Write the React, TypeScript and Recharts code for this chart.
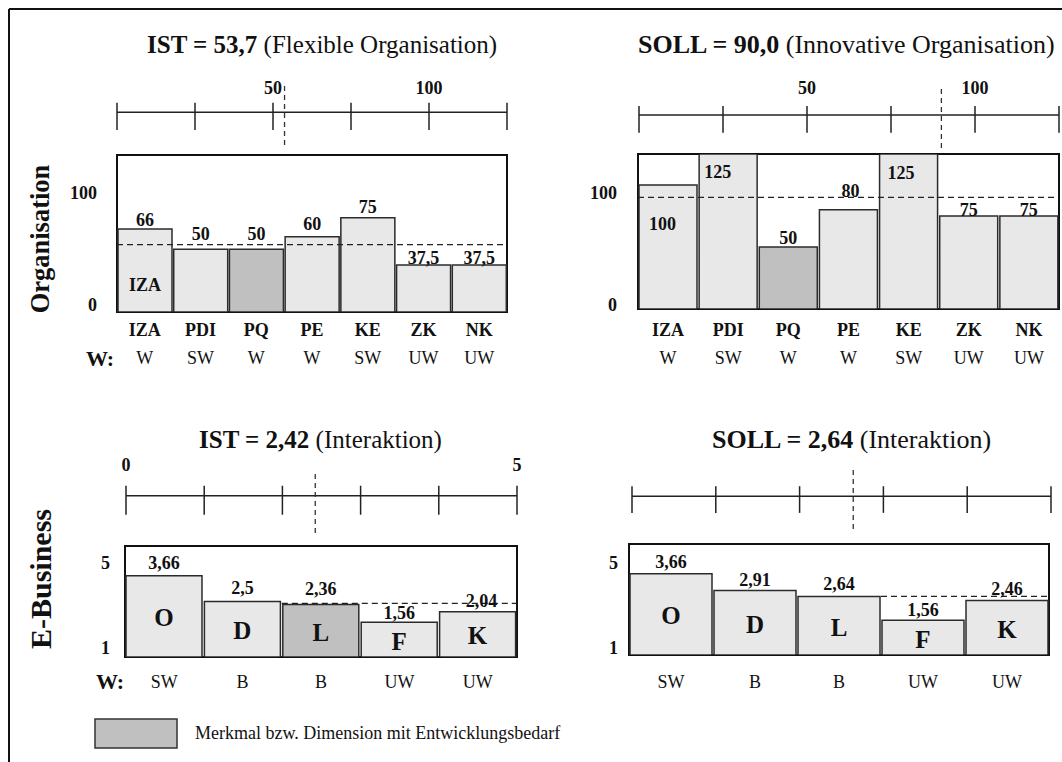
import React from "react";
import {
  ComposedChart,
  Bar,
  Cell,
  XAxis,
  YAxis,
  ReferenceLine,
  ReferenceArea,
  LabelList,
} from "recharts";

const FONT = '"Liberation Serif", "Times New Roman", serif';
const INK = "#111";
const LIGHT = "#e8e8e8";
const HIGHLIGHT = "#c0c0c0";

// Organisation
const orgCategories = ["IZA", "PDI", "PQ", "PE", "KE", "ZK", "NK"];
const orgWeights = ["W", "SW", "W", "W", "SW", "UW", "UW"];
const orgIstValues = [66, 50, 50, 60, 75, 37.5, 37.5];
const orgSollValues = [100, 125, 50, 80, 125, 75, 75];
const orgIstHighlight = ["PQ"];
const orgSollHighlight = ["PQ"];
const orgIst = 53.7;
const orgSoll = 90.0;
const orgDomain: [number, number] = [0, 125];
const orgYTicks = [0, 100];
const orgScaleTicks = [0, 25, 50, 75, 100, 125];
const orgScaleLabels = [50, 100];

// E-Business
const ebCategories = ["O", "D", "L", "F", "K"];
const ebWeights = ["SW", "B", "B", "UW", "UW"];
const ebIstValues = [3.66, 2.5, 2.36, 1.56, 2.04];
const ebSollValues = [3.66, 2.91, 2.64, 1.56, 2.46];
const ebIstHighlight = ["L"];
const ebSollHighlight: string[] = [];
const ebIst = 2.42;
const ebSoll = 2.64;
const ebDomain: [number, number] = [0, 5];
const ebYTicks = [1, 5];
const ebScaleTicks = [0, 1, 2, 3, 4, 5];
const ebIstScaleLabels = [0, 5];

const legendText = "Merkmal bzw. Dimension mit Entwicklungsbedarf";

const comma = (v: number) => String(v).replace(".", ",");

type Place = { anchor: "middle" | "start"; dx: number; dy: number };
const top = (dy: number, dx = 0): Place => ({ anchor: "middle", dx, dy: -dy });
const inside = (dx: number, dy: number): Place => ({ anchor: "start", dx, dy });

interface PanelProps {
  left: number;
  top: number;
  width: number;
  height: number;
  margin: { top: number; right: number; bottom: number; left: number };
  yAxisWidth: number;
  xAxisHeight: number;
  categories: string[];
  values: number[];
  weights: string[];
  highlight: string[];
  domain: [number, number];
  yTicks: number[];
  yTickShift: number[];
  yTickDx: number;
  refValue: number;
  refFrom: number;
  places: Place[];
  inner: (string | null)[];
  innerMode: "bottom" | "center";
  showCategory: boolean;
  categoryDy: number;
  weightDy: number;
}

function BarPanel(p: PanelProps) {
  const data = p.categories.map((name, i) => ({
    name,
    idx: i + 0.5,
    value: p.values[i],
    inner: p.inner[i],
  }));
  const n = data.length;

  const renderValue = (props: any) => {
    const vb = props.viewBox ?? props;
    const i = props.index;
    const pl = p.places[i];
    if (!pl) return null;
    const x = pl.anchor === "middle" ? vb.x + vb.width / 2 + pl.dx : vb.x + pl.dx;
    return (
      <text
        x={x}
        y={vb.y + pl.dy}
        textAnchor={pl.anchor}
        fontFamily={FONT}
        fontWeight="bold"
        fontSize={18}
        fill={INK}
      >
        {comma(props.value)}
      </text>
    );
  };

  const renderInner = (props: any) => {
    if (!props.value) return null;
    const vb = props.viewBox ?? props;
    const big = p.innerMode === "center";
    const y = big ? vb.y + vb.height / 2 + 10 : vb.y + vb.height - 21;
    return (
      <text
        x={vb.x + vb.width / 2}
        y={y}
        textAnchor="middle"
        fontFamily={FONT}
        fontWeight="bold"
        fontSize={big ? 25 : 18}
        fill={INK}
      >
        {props.value}
      </text>
    );
  };

  const renderXTick = (t: any) => {
    const i = p.categories.indexOf(t.payload.value);
    return (
      <g>
        {p.showCategory && (
          <text
            x={t.x}
            y={t.y + p.categoryDy}
            textAnchor="middle"
            fontFamily={FONT}
            fontWeight="bold"
            fontSize={18}
            fill={INK}
          >
            {t.payload.value}
          </text>
        )}
        <text
          x={t.x}
          y={t.y + p.weightDy}
          textAnchor="middle"
          fontFamily={FONT}
          fontSize={18}
          fill={INK}
        >
          {p.weights[i]}
        </text>
      </g>
    );
  };

  const renderYTick = (t: any) => {
    const i = p.yTicks.indexOf(t.payload.value);
    return (
      <text
        x={t.x + p.yTickDx}
        y={t.y + (p.yTickShift[i] ?? 0) + 6}
        textAnchor="end"
        fontFamily={FONT}
        fontWeight="bold"
        fontSize={18}
        fill={INK}
      >
        {t.payload.value}
      </text>
    );
  };

  return (
    <div style={{ position: "absolute", left: p.left, top: p.top }}>
      <ComposedChart
        width={p.width}
        height={p.height}
        data={data}
        margin={p.margin}
        barCategoryGap={1}
        style={{ overflow: "visible" }}
      >
        <XAxis
          dataKey="name"
          height={p.xAxisHeight}
          axisLine={false}
          tickLine={false}
          tickSize={0}
          tickMargin={0}
          interval={0}
          tick={renderXTick}
        />
        <XAxis
          xAxisId="pos"
          dataKey="idx"
          type="number"
          domain={[0, n]}
          hide
          allowDataOverflow
        />
        <YAxis
          type="number"
          domain={p.domain}
          ticks={p.yTicks}
          width={p.yAxisWidth}
          axisLine={false}
          tickLine={false}
          tickSize={0}
          tickMargin={0}
          interval={0}
          allowDataOverflow
          tick={renderYTick}
        />
        <Bar dataKey="value" isAnimationActive={false} stroke="#2b2b2b" strokeWidth={1.5}>
          {data.map((d) => (
            <Cell key={d.name} fill={p.highlight.includes(d.name) ? HIGHLIGHT : LIGHT} />
          ))}
          <LabelList dataKey="value" content={renderValue} />
          <LabelList dataKey="inner" content={renderInner} />
        </Bar>
        <ReferenceLine
          xAxisId="pos"
          segment={[
            { x: p.refFrom, y: p.refValue },
            { x: n, y: p.refValue },
          ]}
          ifOverflow="visible"
          stroke="#222"
          strokeWidth={1.3}
          strokeDasharray="6 4"
        />
        <ReferenceArea
          y1={p.domain[0]}
          y2={p.domain[1]}
          fill="none"
          stroke={INK}
          strokeWidth={2}
        />
      </ComposedChart>
    </div>
  );
}

interface RulerProps {
  left: number;
  top: number;
  width: number;
  height: number;
  margin: { top: number; right: number; bottom: number; left: number };
  domain: [number, number];
  ticks: number[];
  labels: number[];
  refValue: number;
  tickTop: number;
  tickBottom: number;
  lineY: number;
  labelOffset: number;
}

function Ruler(r: RulerProps) {
  const data = r.ticks.map((t) => ({ t }));
  return (
    <div style={{ position: "absolute", left: r.left, top: r.top }}>
      <ComposedChart
        width={r.width}
        height={r.height}
        data={data}
        margin={r.margin}
        style={{ overflow: "visible" }}
      >
        <XAxis dataKey="t" type="number" domain={r.domain} hide allowDataOverflow />
        <YAxis type="number" domain={[0, 100]} reversed hide allowDataOverflow />
        <ReferenceLine y={r.lineY} stroke="#222" strokeWidth={1.5} />
        {r.ticks.map((t) => (
          <ReferenceLine
            key={t}
            segment={[
              { x: t, y: r.tickTop },
              { x: t, y: r.tickBottom },
            ]}
            stroke="#222"
            strokeWidth={1.5}
            label={
              r.labels.includes(t)
                ? {
                    value: String(t),
                    position: "top",
                    offset: r.labelOffset,
                    fill: INK,
                    fontSize: 18,
                    fontWeight: "bold",
                    fontFamily: FONT,
                  }
                : undefined
            }
          />
        ))}
        <ReferenceLine x={r.refValue} stroke="#333" strokeWidth={1.3} strokeDasharray="5 4" />
      </ComposedChart>
    </div>
  );
}

export default function App() {
  return (
    <div
      style={{
        position: "absolute",
        left: 0,
        top: 0,
        width: 1062,
        height: 762,
        background: "#fff",
        overflow: "hidden",
        fontFamily: FONT,
      }}
    >
      <svg
        width={1062}
        height={762}
        style={{ position: "absolute", left: 0, top: 0 }}
        fontFamily={FONT}
        fill={INK}
      >
        <line x1={9} y1={9} x2={1062} y2={9} stroke={INK} strokeWidth={2} />
        <line x1={9} y1={9} x2={9} y2={762} stroke={INK} strokeWidth={2} />

        <text x={147} y={53} fontSize={25}>
          <tspan fontWeight="bold">{`IST = ${orgIst.toFixed(1).replace(".", ",")}`}</tspan>
          {" (Flexible Organisation)"}
        </text>
        <text x={638} y={53} fontSize={26}>
          <tspan fontWeight="bold">{`SOLL = ${orgSoll.toFixed(1).replace(".", ",")}`}</tspan>
          {" (Innovative Organisation)"}
        </text>
        <text x={199} y={448} fontSize={25}>
          <tspan fontWeight="bold">{`IST = ${ebIst.toFixed(2).replace(".", ",")}`}</tspan>
          {" (Interaktion)"}
        </text>
        <text x={712} y={448} fontSize={26}>
          <tspan fontWeight="bold">{`SOLL = ${ebSoll.toFixed(2).replace(".", ",")}`}</tspan>
          {" (Interaktion)"}
        </text>

        <text
          x={40}
          y={239}
          fontSize={26.5}
          fontWeight="bold"
          textAnchor="middle"
          dominantBaseline="central"
          transform="rotate(-90 40 239)"
        >
          Organisation
        </text>
        <text
          x={40}
          y={579}
          fontSize={30}
          fontWeight="bold"
          textAnchor="middle"
          dominantBaseline="central"
          transform="rotate(-90 40 579)"
        >
          E-Business
        </text>

        <text x={100} y={366} fontSize={22} fontWeight="bold" textAnchor="middle">
          W:
        </text>
        <text x={110} y={689} fontSize={22} fontWeight="bold" textAnchor="middle">
          W:
        </text>

        <rect x={95} y={719} width={82} height={29} fill={HIGHLIGHT} stroke="#333" strokeWidth={1.5} />
        <text x={195} y={739} fontSize={18}>
          {legendText}
        </text>
      </svg>

      <Ruler
        left={57}
        top={63}
        width={460}
        height={100}
        margin={{ top: 20, right: 10, bottom: 18, left: 60 }}
        domain={orgDomain}
        ticks={orgScaleTicks}
        labels={orgScaleLabels}
        refValue={orgIst}
        tickTop={32}
        tickBottom={76}
        lineY={47}
        labelOffset={8.5}
      />
      <BarPanel
        left={57}
        top={140}
        width={460}
        height={240}
        margin={{ top: 15, right: 10, bottom: 8, left: 0 }}
        yAxisWidth={60}
        xAxisHeight={60}
        categories={orgCategories}
        values={orgIstValues}
        weights={orgWeights}
        highlight={orgIstHighlight}
        domain={orgDomain}
        yTicks={orgYTicks}
        yTickShift={[-7, 6.6]}
        yTickDx={-20}
        refValue={orgIst}
        refFrom={0}
        places={[top(3), top(9), top(9), top(7), top(5), top(1), top(1)]}
        inner={["IZA", null, null, null, null, null, null]}
        innerMode="bottom"
        showCategory
        categoryDy={24}
        weightDy={52}
      />

      <Ruler
        left={578}
        top={67}
        width={484}
        height={100}
        margin={{ top: 20, right: 3, bottom: 19, left: 61 }}
        domain={orgDomain}
        ticks={orgScaleTicks}
        labels={orgScaleLabels}
        refValue={orgSoll}
        tickTop={31}
        tickBottom={75}
        lineY={46}
        labelOffset={11.5}
      />
      <BarPanel
        left={578}
        top={140}
        width={484}
        height={240}
        margin={{ top: 14, right: 3, bottom: 11, left: 0 }}
        yAxisWidth={60}
        xAxisHeight={60}
        categories={orgCategories}
        values={orgSollValues}
        weights={orgWeights}
        highlight={orgSollHighlight}
        domain={orgDomain}
        yTicks={orgYTicks}
        yTickShift={[-4, 8]}
        yTickDx={-21}
        refValue={orgSoll}
        refFrom={0}
        places={[inside(10, 45), inside(5, 24), top(3.5), top(13, 2), inside(8, 25), top(0), top(0)]}
        inner={[null, null, null, null, null, null, null]}
        innerMode="bottom"
        showCategory
        categoryDy={27}
        weightDy={55}
      />

      <Ruler
        left={65}
        top={450}
        width={462}
        height={100}
        margin={{ top: 20, right: 10, bottom: 17, left: 61 }}
        domain={ebDomain}
        ticks={ebScaleTicks}
        labels={ebIstScaleLabels}
        refValue={ebIst}
        tickTop={25}
        tickBottom={71}
        lineY={41}
        labelOffset={14.5}
      />
      <BarPanel
        left={65}
        top={530}
        width={462}
        height={170}
        margin={{ top: 16, right: 10, bottom: 3, left: 0 }}
        yAxisWidth={60}
        xAxisHeight={40}
        categories={ebCategories}
        values={ebIstValues}
        weights={ebWeights}
        highlight={ebIstHighlight}
        domain={ebDomain}
        yTicks={ebYTicks}
        yTickShift={[13, 17]}
        yTickDx={-15}
        refValue={ebIst}
        refFrom={ebCategories.indexOf("L")}
        places={[top(6.5), top(7.5), top(9.5), top(3.5), top(4.5, 4)]}
        inner={ebCategories}
        innerMode="center"
        showCategory={false}
        categoryDy={0}
        weightDy={31}
      />

      <Ruler
        left={569}
        top={447}
        width={490}
        height={100}
        margin={{ top: 20, right: 8, bottom: 18, left: 63 }}
        domain={ebDomain}
        ticks={ebScaleTicks}
        labels={[]}
        refValue={ebSoll}
        tickTop={31}
        tickBottom={74}
        lineY={47}
        labelOffset={12}
      />
      <BarPanel
        left={569}
        top={528}
        width={490}
        height={170}
        margin={{ top: 16, right: 10, bottom: 3, left: 0 }}
        yAxisWidth={60}
        xAxisHeight={40}
        categories={ebCategories}
        values={ebSollValues}
        weights={ebWeights}
        highlight={ebSollHighlight}
        domain={ebDomain}
        yTicks={ebYTicks}
        yTickShift={[15, 19]}
        yTickDx={-11}
        refValue={ebSoll}
        refFrom={ebCategories.indexOf("F")}
        places={[top(5.5), top(4.5), top(6.5), top(4.5), top(5.5)]}
        inner={ebCategories}
        innerMode="center"
        showCategory={false}
        categoryDy={0}
        weightDy={33}
      />
    </div>
  );
}
